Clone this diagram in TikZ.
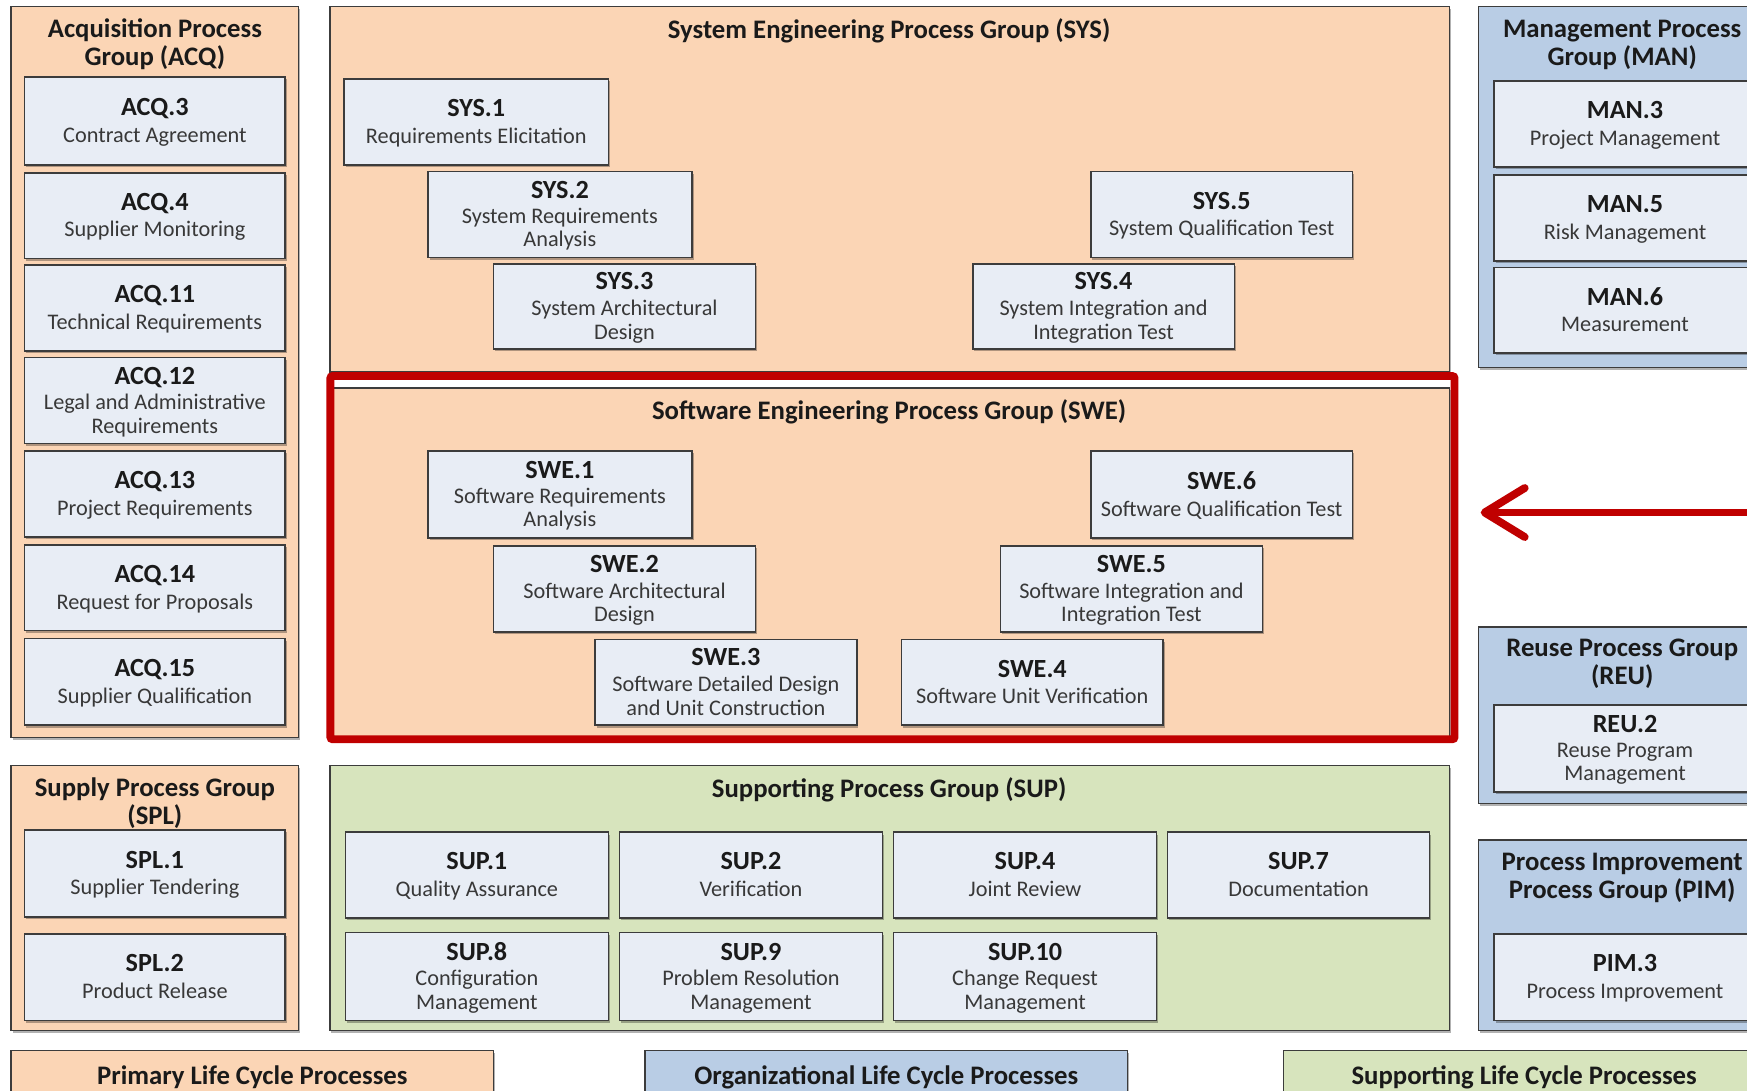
\documentclass[tikz,border=0pt]{standalone}
\usepackage{fontspec}
\setmainfont{Carlito}
\usetikzlibrary{fit,shadows,arrows.meta}
\definecolor{peach}{HTML}{FBD5B5}
\definecolor{grpblue}{HTML}{B9CDE5}
\definecolor{grpgreen}{HTML}{D7E4BD}
\definecolor{boxfill}{HTML}{E8EDF5}
\definecolor{edge}{HTML}{3C3C3C}
\definecolor{swered}{HTML}{C00000}
\definecolor{codecol}{HTML}{1A1A1A}
\definecolor{desccol}{HTML}{383838}
\tikzset{
  shad/.style={drop shadow={shadow xshift=1.5pt,shadow yshift=-2pt,opacity=0.3,fill=black}},
  grp/.style={draw=edge, line width=1.4pt, shad, inner sep=0pt},
  pbox/.style={draw=edge, line width=1.5pt, fill=boxfill, shad, inner sep=0pt},
  ptext/.style={inner sep=0pt, align=center, text=desccol, yshift=-2pt, font=\fontsize{20}{21}\selectfont},
  gtitle/.style={align=center, text=codecol, font=\fontsize{24}{25}\selectfont\bfseries, inner sep=0pt},
}
\newcommand\pc[2]{{\fontsize{23.5}{24}\selectfont\bfseries\color{codecol}\strut#1}\\[1pt]#2\strut}
\newcommand\pb[7]{\node[pbox, fit={(#2,#3)(#4,#5)}] (#1) {};
  \node[ptext] (#1t) at (#1.center) {\pc{#6}{#7}};}
\begin{document}
\begin{tikzpicture}[x=1pt,y=-1pt]
\clip (0,0) rectangle (1568,979);
\fill[white] (0,0) rectangle (1568,979);

% groups
\node[grp, fill=peach, fit={(10,6)(268,662)}] (acq) {};
\node[grp, fill=peach, fit={(10,687)(268,925)}] (spl) {};
\node[grp, fill=peach, fit={(296,6)(1301,334)}] (sys) {};
\node[grp, fill=peach, fit={(296,348)(1301,662)}] (swe) {};
\node[grp, fill=grpgreen, fit={(296,687)(1301,925)}] (sup) {};
\node[grp, fill=grpblue, fit={(1327,6)(1600,330)}] (man) {};
\node[grp, fill=grpblue, fit={(1327,563)(1600,721)}] (reu) {};
\node[grp, fill=grpblue, fit={(1327,754)(1600,925)}] (pim) {};

% titles
\node[gtitle] (acqt) at (139,40) {Acquisition Process\\Group (ACQ)};
\node[gtitle] (splt) at (139,721) {Supply Process Group\\(SPL)};
\node[gtitle] (syst) at (798,27.5) {System Engineering Process Group (SYS)};
\node[gtitle] (swet) at (798,369.5) {Software Engineering Process Group (SWE)};
\node[gtitle] (supt) at (798,708.5) {Supporting Process Group (SUP)};
\node[gtitle] (mant) at (1456,40) {Management Process\\Group (MAN)};
\node[gtitle] (reut) at (1456,596) {Reuse Process Group\\(REU)};
\node[gtitle] (pimt) at (1456,788) {Process Improvement\\Process Group (PIM)};

% ACQ
\pb{acq3}{22}{69}{256}{148}{ACQ.3}{Contract Agreement}
\pb{acq4}{22}{155}{256}{232}{ACQ.4}{Supplier Monitoring}
\pb{acq11}{22}{238}{256}{315}{ACQ.11}{Technical Requirements}
\pb{acq12}{22}{321}{256}{398}{ACQ.12}{Legal and Administrative\\Requirements}
\pb{acq13}{22}{405}{256}{482}{ACQ.13}{Project Requirements}
\pb{acq14}{22}{489}{256}{566}{ACQ.14}{Request for Proposals}
\pb{acq15}{22}{573}{256}{651}{ACQ.15}{Supplier Qualification}
% SPL
\pb{spl1}{22}{745}{256}{823}{SPL.1}{Supplier Tendering}
\pb{spl2}{22}{838}{256}{916}{SPL.2}{Product Release}
% SYS
\pb{sys1}{309}{71}{546}{148}{SYS.1}{Requirements Elicitation}
\pb{sys2}{384}{154}{621}{231}{SYS.2}{System Requirements\\Analysis}
\pb{sys3}{443}{237}{678}{313}{SYS.3}{System Architectural\\Design}
\pb{sys5}{979}{154}{1214}{231}{SYS.5}{System Qualification Test}
\pb{sys4}{873}{237}{1108}{313}{SYS.4}{System Integration and\\Integration Test}
% SWE
\pb{swe1}{384}{405}{621}{483}{SWE.1}{Software Requirements\\Analysis}
\pb{swe6}{979}{405}{1214}{483}{SWE.6}{Software Qualification Test}
\pb{swe2}{443}{490}{678}{567}{SWE.2}{Software Architectural\\Design}
\pb{swe5}{898}{490}{1133}{567}{SWE.5}{Software Integration and\\Integration Test}
\pb{swe3}{534}{574}{769}{651}{SWE.3}{Software Detailed Design\\and Unit Construction}
\pb{swe4}{809}{574}{1044}{651}{SWE.4}{Software Unit Verification}
% SUP
\pb{sup1}{310}{747}{546}{824}{SUP.1}{Quality Assurance}
\pb{sup2}{556}{747}{792}{824}{SUP.2}{Verification}
\pb{sup4}{802}{747}{1038}{824}{SUP.4}{Joint Review}
\pb{sup7}{1048}{747}{1283}{824}{SUP.7}{Documentation}
\pb{sup8}{310}{837}{546}{916}{SUP.8}{Configuration\\Management}
\pb{sup9}{556}{837}{792}{916}{SUP.9}{Problem Resolution\\Management}
\pb{sup10}{802}{837}{1038}{916}{SUP.10}{Change Request\\Management}
% MAN, REU, PIM
\pb{man3}{1341}{73}{1576}{150}{MAN.3}{Project Management}
\pb{man5}{1341}{157}{1576}{234}{MAN.5}{Risk Management}
\pb{man6}{1341}{240}{1576}{317}{MAN.6}{Measurement}
\pb{reu2}{1341}{633}{1576}{711}{REU.2}{Reuse Program\\Management}
\pb{pim3}{1341}{838}{1576}{916}{PIM.3}{Process Improvement}

% legend
\node[grp, fill=peach, fit={(10,943)(443,1000)}] (legp) {};
\node[grp, fill=grpblue, fit={(579,943)(1012,1000)}] (lego) {};
\node[grp, fill=grpgreen, fit={(1152,943)(1585,1000)}] (legs) {};
\node[gtitle] (legpt) at (226.5,967) {Primary Life Cycle Processes};
\node[gtitle] (legot) at (795.5,967) {Organizational Life Cycle Processes};
\node[gtitle] (legst) at (1368,967) {Supporting Life Cycle Processes};

% red highlight frame
\node[draw=swered, line width=7pt, rounded corners=2pt, inner sep=0pt,
  fit={(296.5,337.5)(1305.5,663.5)}] (swefr) {};

% arrow
\coordinate (arrtail) at (1580,460);
\coordinate (arrtip) at (1329,460);
\draw[swered, line width=7pt, -{Straight Barb[length=36pt,width=44pt,round]}] (arrtail) -- (arrtip);
\end{tikzpicture}
\end{document}
